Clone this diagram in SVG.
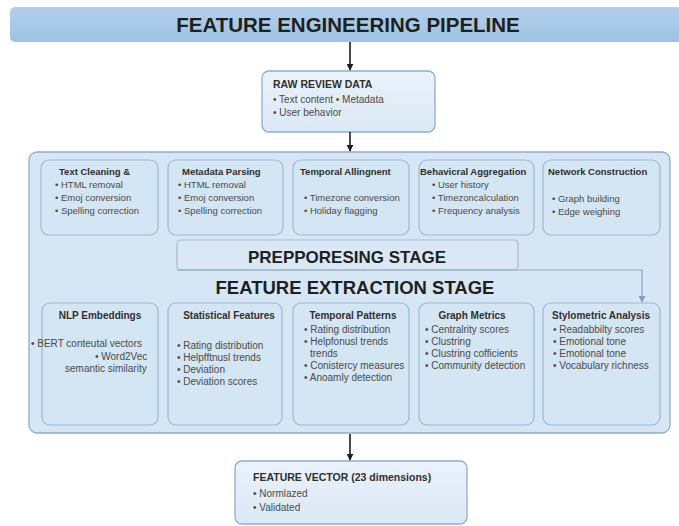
<svg xmlns="http://www.w3.org/2000/svg" width="679" height="526" viewBox="0 0 679 526">
<defs>
<linearGradient id="gTitle" x1="0" y1="0" x2="0" y2="1">
<stop offset="0" stop-color="#b2d0ec"/><stop offset="1" stop-color="#9ec2e3"/>
</linearGradient>
<linearGradient id="gBox" x1="0" y1="0" x2="0" y2="1">
<stop offset="0" stop-color="#eaf2fb"/><stop offset="1" stop-color="#dbe8f5"/>
</linearGradient>
<marker id="ah" viewBox="0 0 10 10" refX="9" refY="5" markerWidth="7" markerHeight="7" orient="auto" markerUnits="userSpaceOnUse">
<path d="M0,0 L10,5 L0,10 z" fill="#1e1e1e"/>
</marker>
<marker id="ahb" viewBox="0 0 10 10" refX="9" refY="5" markerWidth="7" markerHeight="7" orient="auto" markerUnits="userSpaceOnUse">
<path d="M0,0 L10,5 L0,10 z" fill="#7f9fbf"/>
</marker>
</defs>
<style>
text{font-family:"Liberation Sans",Arial,sans-serif;}
.title{font-size:20.5px;font-weight:bold;fill:#1f1f1f;}
.stage{font-weight:bold;fill:#1f1f1f;}
.box{fill:#d4e5f4;stroke:#9cb9d4;stroke-width:1.2;}
.hd{font-size:9.5px;font-weight:bold;fill:#2f2f2f;}
.hd2{font-size:10px;font-weight:bold;fill:#2f2f2f;}
.b{font-size:9.5px;fill:#4a4a4a;}
.b2{font-size:10px;fill:#4a4a4a;}
.io{fill:url(#gBox);stroke:#8eaecb;stroke-width:1.3;}
.iohd{font-size:10.5px;font-weight:bold;fill:#2f2f2f;}
.iob{font-size:10px;fill:#4a4a4a;}
.arr{stroke:#1e1e1e;stroke-width:1.6;fill:none;}
</style>

<g id="title">
<rect x="10" y="7" width="680" height="35" rx="5" fill="url(#gTitle)"/>
<text class="title" x="348" y="32" text-anchor="middle">FEATURE ENGINEERING PIPELINE</text>
</g>

<g id="raw-review-data">
<rect class="io" x="262" y="71" width="173" height="61" rx="7"/>
<text class="iohd" x="273" y="88">RAW REVIEW DATA</text>
<text class="iob" x="273" y="103">• Text content  • Metadata</text>
<text class="iob" x="273" y="116">• User behavior</text>
</g>

<g id="container">
<rect x="29" y="152" width="641" height="281" rx="8" fill="#d6e6f5" stroke="#8eaecb" stroke-width="1.3"/>
</g>

<g id="text-cleaning">
<rect class="box" x="41" y="160" width="117" height="75" rx="8"/>
<text class="hd" x="59" y="174.5">Text Cleaning &amp;</text>
<text class="b" x="55" y="187.5">• HTML removal</text>
<text class="b" x="55" y="200.5">• Emoj conversion</text>
<text class="b" x="55" y="213.5">• Spelling correction</text>
</g>

<g id="metadata-parsing">
<rect class="box" x="168" y="160" width="115" height="75" rx="8"/>
<text class="hd" x="182" y="174.5">Metadata Parsing</text>
<text class="b" x="178" y="187.5">• HTML removal</text>
<text class="b" x="178" y="200.5">• Emoj conversion</text>
<text class="b" x="178" y="213.5">• Spelling correction</text>
</g>

<g id="temporal-alignment">
<rect class="box" x="293" y="160" width="116" height="75" rx="8"/>
<text class="hd" x="300" y="174.5">Temporal Allingnent</text>
<text class="b" x="304" y="200.5">• Timezone conversion</text>
<text class="b" x="304" y="213.5">• Holiday flagging</text>
</g>

<g id="behavioral-aggregation">
<rect class="box" x="419" y="160" width="115" height="75" rx="8"/>
<text class="hd" x="420" y="174.5">Behavicral Aggregation</text>
<text class="b" x="432" y="187.5">• User history</text>
<text class="b" x="432" y="200.5">• Timezoncalculation</text>
<text class="b" x="432" y="213.5">• Frequency analysis</text>
</g>

<g id="network-construction">
<rect class="box" x="543" y="160" width="117" height="75" rx="8"/>
<text class="hd" x="548" y="174.5">Network Construction</text>
<text class="b" x="552" y="201.5">• Graph building</text>
<text class="b" x="552" y="214.5">• Edge weighing</text>
</g>

<g id="preprocessing-stage">
<rect x="177" y="240" width="341" height="30" rx="4" fill="#dae8f6" stroke="#a3bcd3" stroke-width="1.2"/>
<text class="stage" x="347" y="263" text-anchor="middle" font-size="17">PREPPORESING STAGE</text>
</g>

<g id="feature-extraction-stage">
<text class="stage" x="355" y="293.5" text-anchor="middle" font-size="18.5">FEATURE EXTRACTION STAGE</text>
</g>

<g id="nlp-embeddings">
<rect class="box" x="42" y="303" width="116" height="122" rx="8"/>
<text class="hd2" x="100" y="318.5" text-anchor="middle">NLP Embeddings</text>
<text class="b2" x="31" y="346.5">• BERT conteutal vectors</text>
<text class="b2" x="95" y="359.5">• Word2Vec</text>
<text class="b2" x="65" y="371.5">semantic similarity</text>
</g>

<g id="statistical-features">
<rect class="box" x="168" y="303" width="114" height="122" rx="8"/>
<text class="hd2" x="229" y="318.5" text-anchor="middle">Statistical Features</text>
<text class="b2" x="177" y="348.5">• Rating distribution</text>
<text class="b2" x="177" y="360.8">• Helpfftnusl trends</text>
<text class="b2" x="177" y="373.1">• Deviation</text>
<text class="b2" x="177" y="385.4">• Deviation scores</text>
</g>

<g id="temporal-patterns">
<rect class="box" x="293" y="303" width="116" height="122" rx="8"/>
<text class="hd2" x="353" y="318.5" text-anchor="middle">Temporal Patterns</text>
<text class="b2" x="304" y="332.5">• Rating distribution</text>
<text class="b2" x="304" y="344.5">• Helpfonusl trends</text>
<text class="b2" x="310" y="356.5">trends</text>
<text class="b2" x="304" y="368.5">• Conistercy measures</text>
<text class="b2" x="304" y="380.5">• Anoamly detection</text>
</g>

<g id="graph-metrics">
<rect class="box" x="419" y="303" width="115" height="122" rx="8"/>
<text class="hd2" x="472" y="318.5" text-anchor="middle">Graph Metrics</text>
<text class="b2" x="425" y="332.5">• Centralrity scores</text>
<text class="b2" x="425" y="344.8">• Clustring</text>
<text class="b2" x="425" y="357.1">• Clustring cofficients</text>
<text class="b2" x="425" y="369.4">• Community detection</text>
</g>

<g id="stylometric-analysis">
<rect class="box" x="543" y="303" width="117" height="122" rx="8"/>
<text class="hd2" x="601" y="318.5" text-anchor="middle">Stylometric Analysis</text>
<text class="b2" x="553" y="332.5">• Readabbilty scores</text>
<text class="b2" x="553" y="344.8">• Emotional tone</text>
<text class="b2" x="553" y="357.1">• Emotional tone</text>
<text class="b2" x="553" y="369.4">• Vocabulary richness</text>
</g>

<g id="feature-vector">
<rect class="io" x="235" y="461" width="232" height="63" rx="7"/>
<text class="iohd" x="253" y="481" font-size="11">FEATURE VECTOR (23 dimensions)</text>
<text class="iob" x="253" y="497">• Normlazed</text>
<text class="iob" x="253" y="511">• Validated</text>
</g>

<g id="connectors">
<line class="arr" x1="350" y1="42" x2="350" y2="70" marker-end="url(#ah)"/>
<line class="arr" x1="350" y1="132" x2="350" y2="151" marker-end="url(#ah)"/>
<polyline points="177,270 642,270 642,302" fill="none" stroke="#8fa9c2" stroke-width="1.2" marker-end="url(#ahb)"/>
<line class="arr" x1="350" y1="434" x2="350" y2="460" marker-end="url(#ah)"/>
</g>
</svg>
